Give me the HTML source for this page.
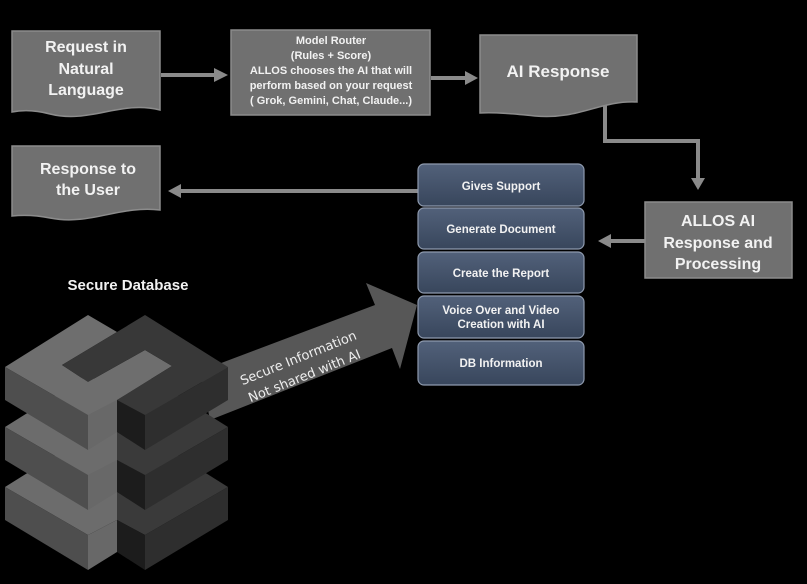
<!DOCTYPE html>
<html><head><meta charset="utf-8"><style>
html,body{margin:0;padding:0;background:#000;}
svg{display:block;}
.t{font-family:"Liberation Sans",sans-serif;font-weight:bold;fill:#f2f2f2;text-anchor:middle;}
</style></head><body>
<svg width="807" height="584" viewBox="0 0 807 584" xmlns="http://www.w3.org/2000/svg">
<defs>
<linearGradient id="bl" x1="0" y1="0" x2="0" y2="1">
<stop offset="0" stop-color="#52617a"/><stop offset="1" stop-color="#38465c"/>
</linearGradient>
</defs>
<rect width="807" height="584" fill="#000"/>

<!-- Request doc -->
<path d="M12,31 H160 V110 C120,100 90,124 50,114 C35,110 22,110 12,112 Z" fill="#707070" stroke="#8c8c8c" stroke-width="1.5"/>
<text class="t" x="86" y="52" font-size="16">Request in</text>
<text class="t" x="86" y="74" font-size="16">Natural</text>
<text class="t" x="86" y="95" font-size="16">Language</text>

<!-- arrow -->
<rect x="161" y="73" width="55" height="4" fill="#8a8a8a"/>
<polygon points="214,68 228,75 214,82" fill="#8a8a8a"/>

<!-- Model router -->
<rect x="231" y="30" width="199" height="85" fill="#707070" stroke="#8c8c8c" stroke-width="1.5"/>
<text class="t" x="331" y="44" font-size="11">Model Router</text>
<text class="t" x="331" y="59" font-size="11">(Rules + Score)</text>
<text class="t" x="331" y="74" font-size="11">ALLOS chooses the AI that will</text>
<text class="t" x="331" y="89" font-size="11">perform based on your request</text>
<text class="t" x="331" y="104" font-size="11">( Grok, Gemini, Chat, Claude...)</text>

<rect x="431" y="76" width="36" height="4" fill="#8a8a8a"/>
<polygon points="465,71 478,78 465,85" fill="#8a8a8a"/>

<!-- AI Response doc -->
<path d="M480,35 H637 V102 C600,100 580,120 535,116 C515,114 495,112 480,113 Z" fill="#707070" stroke="#8c8c8c" stroke-width="1.5"/>
<text class="t" x="558" y="77" font-size="17">AI Response</text>

<!-- elbow connector -->
<path d="M605,105 V141 H698 V180" fill="none" stroke="#8a8a8a" stroke-width="4"/>
<polygon points="691,178 705,178 698,190" fill="#8a8a8a"/>

<!-- ALLOS -->
<rect x="645" y="202" width="147" height="76" fill="#707070" stroke="#8c8c8c" stroke-width="1.5"/>
<text class="t" x="718" y="226" font-size="16">ALLOS AI</text>
<text class="t" x="718" y="248" font-size="16">Response and</text>
<text class="t" x="718" y="269" font-size="16">Processing</text>

<rect x="610" y="239" width="35" height="4" fill="#8a8a8a"/>
<polygon points="611,234 598,241 611,248" fill="#8a8a8a"/>

<!-- Response to user doc -->
<path d="M12,146 H160 V210 C120,205 90,226 50,218 C35,215 22,215 12,216 Z" fill="#707070" stroke="#8c8c8c" stroke-width="1.5"/>
<text class="t" x="88" y="174" font-size="16">Response to</text>
<text class="t" x="88" y="195" font-size="16">the User</text>

<rect x="180" y="189" width="238" height="4" fill="#8a8a8a"/>
<polygon points="181,184 168,191 181,198" fill="#8a8a8a"/>

<!-- blue boxes -->
<g stroke="#8e9aae" stroke-width="1.2" fill="url(#bl)">
<rect x="418" y="164" width="166" height="42" rx="6"/>
<rect x="418" y="208" width="166" height="41" rx="6"/>
<rect x="418" y="252" width="166" height="41" rx="6"/>
<rect x="418" y="296" width="166" height="42" rx="6"/>
<rect x="418" y="341" width="166" height="44" rx="6"/>
</g>
<text class="t" x="501" y="190" font-size="11.5">Gives Support</text>
<text class="t" x="501" y="233" font-size="11.5">Generate Document</text>
<text class="t" x="501" y="277" font-size="11.5">Create the Report</text>
<text class="t" x="501" y="314" font-size="11.5">Voice Over and Video</text>
<text class="t" x="501" y="328" font-size="11.5">Creation with AI</text>
<text class="t" x="501" y="367" font-size="11.5">DB Information</text>

<!-- Secure Database -->
<text class="t" x="128" y="290" font-size="15">Secure Database</text>

<!-- big arrow -->
<polygon points="200,371 375,305 366,283 417,305 400,369 392,348 210,420" fill="#575757"/>
<text x="300" y="362" transform="rotate(-22 300 362)" font-family="'DejaVu Sans','Liberation Sans',sans-serif" font-size="13" fill="#eee" text-anchor="middle">Secure Information</text>
<text x="306" y="380" transform="rotate(-22 306 380)" font-family="'DejaVu Sans','Liberation Sans',sans-serif" font-size="13" fill="#eee" text-anchor="middle">Not shared with AI</text>

<!-- DB cubes: bottom layer -->
<g transform="translate(0,120)">
<polygon points="5,367 88,315 117,332 117,400 88,415" fill="#6c6c6c"/>
<polygon points="117,332 145,315 228,367 145,415 117,400" fill="#3a3a3a"/>
<polygon points="5,367 88,415 88,450 5,400" fill="#4e4e4e"/>
<polygon points="88,415 117,400 117,432 88,450" fill="#686868"/>
<polygon points="117,400 145,415 145,450 117,432" fill="#1c1c1c"/>
<polygon points="145,415 228,367 228,400 145,450" fill="#2e2e2e"/>
</g>
<g transform="translate(0,60)">
<polygon points="5,367 88,315 117,332 117,400 88,415" fill="#6c6c6c"/>
<polygon points="117,332 145,315 228,367 145,415 117,400" fill="#3a3a3a"/>
<polygon points="5,367 88,415 88,450 5,400" fill="#4e4e4e"/>
<polygon points="88,415 117,400 117,432 88,450" fill="#686868"/>
<polygon points="117,400 145,415 145,450 117,432" fill="#1c1c1c"/>
<polygon points="145,415 228,367 228,400 145,450" fill="#2e2e2e"/>
</g>
<g>
<polygon points="5,367 88,315 117,332 62,365 88,382 145,350 172,366 117,400 88,415" fill="#6e6e6e"/>
<polygon points="117,332 145,315 228,367 145,415 117,400 172,366 145,350 88,382 62,365" fill="#383838"/>
<polygon points="5,367 88,415 88,450 5,400" fill="#4e4e4e"/>
<polygon points="88,415 117,400 117,432 88,450" fill="#686868"/>
<polygon points="117,400 145,415 145,450 117,432" fill="#1c1c1c"/>
<polygon points="145,415 228,367 228,400 145,450" fill="#2e2e2e"/>
</g>
</svg>
</body></html>
